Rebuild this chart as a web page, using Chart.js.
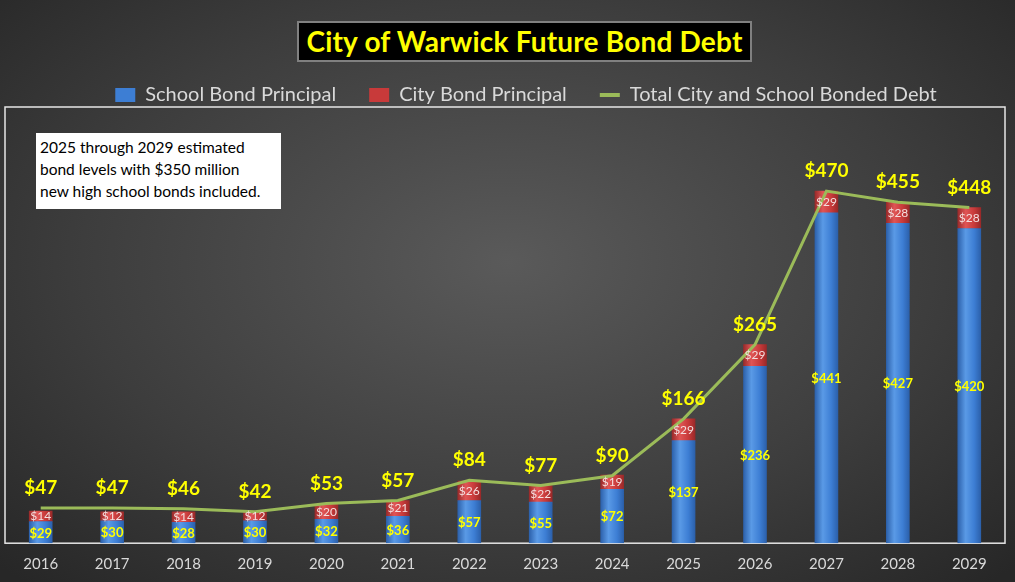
<!DOCTYPE html>
<html>
<head>
<meta charset="utf-8">
<script src="https://cdn.jsdelivr.net/npm/chart.js@4.4.1/dist/chart.umd.min.js"></script>
<style>
  html, body { margin: 0; padding: 0; }
  body {
    width: 1015px; height: 582px; overflow: hidden; position: relative;
    background: radial-gradient(ellipse 70% 75% at 50% 45%, #5a5a5a 0%, #3d3d3d 60%, #272727 100%);
    font-family: Lato, "Open Sans", sans-serif;
  }
  #wrap { position: absolute; left: 0; top: 0; width: 1015px; height: 582px; }
  #title {
    position: absolute; left: 297px; top: 21px; width: 451px; height: 37px;
    background: #000; border: 2px solid #808080;
    color: #ffff00; font-weight: bold; font-size: 28px; line-height: 37px; text-align: center;
    letter-spacing: 0.2px;
  }
  #note {
    position: absolute; left: 36px; top: 133px; width: 237px; height: 72px;
    background: #fff; color: #000; font-size: 15.5px; line-height: 22px; padding: 3px 4px 1px 4px;
  }
</style>
</head>
<body>
<div id="wrap"><canvas id="chart" width="1015" height="582"></canvas></div>
<div id="title">City of Warwick Future Bond Debt</div>
<div id="note">2025 through 2029 estimated<br>bond levels with $350 million<br>new high school bonds included.</div>
<script>
const years = ['2016', '2017', '2018', '2019', '2020', '2021', '2022', '2023', '2024', '2025', '2026', '2027', '2028', '2029'];
const schoolBond = [29, 30, 28, 30, 32, 36, 57, 55, 72, 137, 236, 441, 427, 420];
const cityBond = [14, 12, 14, 12, 20, 21, 26, 22, 19, 29, 29, 29, 28, 28];
const totalDebt = [47, 47, 46, 42, 53, 57, 84, 77, 90, 166, 265, 470, 455, 448];

Chart.defaults.font.family = 'Lato, "Open Sans", sans-serif';

// horizontal shading for the cylinder look
function barShade(light, mid, dark) {
    return function(c) {
        const chart = c.chart;
        if (!chart.chartArea) return mid;
        const x = chart.scales.x.getPixelForValue(c.dataIndex);
        const g = chart.ctx.createLinearGradient(x - 12, 0, x + 12, 0);
        g.addColorStop(0, dark);
        g.addColorStop(0.35, light);
        g.addColorStop(0.7, mid);
        g.addColorStop(1, dark);
        return g;
    };
}

const labelPlugin = {
    id: 'labels',
    afterLayout(chart) {
        // shift legend to sit where the original one is
        chart.legend.left += 21;
        chart.legend.right += 21;
    },
    beforeDatasetsDraw(chart) {
        const a = chart.chartArea;
        const ctx = chart.ctx;
        ctx.save();
        ctx.strokeStyle = '#e6e6e6';
        ctx.lineWidth = 1.5;
        ctx.strokeRect(a.left, 107, a.right - a.left, a.bottom - 107);
        ctx.restore();
    },
    afterDatasetsDraw(chart) {
        const ctx = chart.ctx;
        ctx.save();
        ctx.textAlign = 'center';
        ctx.textBaseline = 'middle';
        chart.getDatasetMeta(0).data.forEach((bar, i) => {
            ctx.font = 'bold 13px Lato';
            ctx.fillStyle = '#ffff00';
            ctx.fillText('$' + schoolBond[i], bar.x, (bar.y + bar.base) / 2 + 1);
        });
        chart.getDatasetMeta(1).data.forEach((bar, i) => {
            ctx.font = '12px Lato';
            ctx.fillStyle = '#f4dede';
            ctx.fillText('$' + cityBond[i], bar.x, (bar.y + bar.base) / 2);
        });
        chart.getDatasetMeta(2).data.forEach((pt, i) => {
            ctx.font = 'bold 19px Lato';
            ctx.fillStyle = '#ffff00';
            ctx.fillText('$' + totalDebt[i], pt.x, pt.y - 20);
        });
        ctx.restore();
    }
};

new Chart(document.getElementById('chart'), {
    type: 'bar',
    data: {
        labels: years,
        datasets: [{
            label: 'School Bond Principal',
            data: schoolBond,
            backgroundColor: barShade('#5a9ae6', '#3d7ed4', '#2a5ea8'),
            legendColor: '#3d7ed4',
            barThickness: 23,
            stack: 'bonds',
            order: 1
        }, {
            label: 'City Bond Principal',
            data: cityBond,
            backgroundColor: barShade('#e05555', '#c83a3a', '#962828'),
            legendColor: '#c83a3a',
            barThickness: 23,
            stack: 'bonds',
            order: 2
        }, {
            type: 'line',
            label: 'Total City and School Bonded Debt',
            data: totalDebt,
            yAxisID: 'y2',
            borderColor: '#9bbb59',
            backgroundColor: '#9bbb59',
            legendColor: '#9bbb59',
            borderWidth: 3,
            pointRadius: 0,
            tension: 0,
            order: 0
        }]
    },
    options: {
        responsive: false,
        animation: false,
        layout: { padding: { left: 5, right: 10, top: 52, bottom: -2.4 } },
        plugins: {
            legend: {
                position: 'top',
                labels: {
                    color: '#d9d9d9',
                    font: { size: 20 },
                    padding: 33,
                    usePointStyle: true,
                    pointStyleWidth: 20,
                    boxHeight: 14,
                    sort: (a, b) => a.datasetIndex - b.datasetIndex,
                    generateLabels(chart) {
                        return chart.data.datasets.map((ds, i) => ({
                            text: ds.label,
                            fillStyle: ds.legendColor,
                            strokeStyle: ds.legendColor,
                            lineWidth: ds.type === 'line' ? 4 : 0,
                            pointStyle: ds.type === 'line' ? 'line' : 'rect',
                            fontColor: '#d9d9d9',
                            hidden: false,
                            datasetIndex: i
                        }));
                    }
                }
            },
            tooltip: { enabled: false }
        },
        scales: {
            x: {
                stacked: true,
                grid: { display: false, drawTicks: false },
                border: { display: false },
                ticks: { color: '#d9d9d9', font: { size: 15 }, padding: 11.6 }
            },
            y: { stacked: true, display: false, min: 0, max: 571.5 },
            y2: { display: false, min: 0, max: 571.5 }
        }
    },
    plugins: [labelPlugin]
});
</script>
</body>
</html>
